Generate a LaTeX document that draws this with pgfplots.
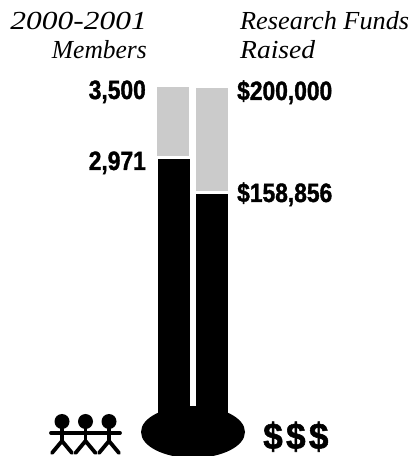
\documentclass[border=0pt]{standalone}
\usepackage{pgfplots}
\pgfplotsset{compat=1.18}
\usepackage{fontspec}
\setmainfont{Liberation Serif}
\newfontfamily\heads{Liberation Sans}[BoldFeatures={FakeBold=1.5}]
\definecolor{goalgray}{HTML}{CBCBCB}
\newcommand{\boldnum}[2][0.86]{\scalebox{#1}[1]{\heads\bfseries\fontsize{26.5}{26.5}\selectfont #2}}
\newcommand{\headline}[2][1]{\scalebox{#1}[1]{\itshape\fontsize{26}{26}\selectfont #2}}
\pgfplotsset{
  panel/.style={
    hide axis, scale only axis, width=412pt, height=430pt,
    at={(0pt,26pt)}, anchor=south west,
    xmin=0, xmax=412, ybar, bar shift=0pt,
    clip=true,
  },
}
\begin{document}
\begin{tikzpicture}[x=1pt,y=1pt]
\useasboundingbox (0,0) rectangle (412,456);

% Membership column: 3,500 goal against 2,971 reached
\begin{axis}[panel, ymin=980, ymax=4139]
  \addplot[fill=goalgray, draw=none, bar width=32pt] coordinates {(173,3500)};
  \addplot[fill=white, draw=none, bar width=36pt] coordinates {(173.5,2995)};
  \addplot[fill=black, draw=none, bar width=32pt] coordinates {(174,2971)};
\end{axis}

% Research funds column: $200,000 goal against $158,856 raised
\begin{axis}[panel, ymin=67253, ymax=234157]
  \addplot[fill=goalgray, draw=none, bar width=32pt] coordinates {(212,200000)};
  \addplot[fill=white, draw=none, bar width=36pt] coordinates {(212,159900)};
  \addplot[fill=black, draw=none, bar width=32pt] coordinates {(212,158856)};
\end{axis}

% Base joining both columns
\fill[black] (193,24) ellipse [x radius=52, y radius=26];

% Column headings
\node[anchor=base east, inner sep=0] at (147,426) {\headline[1.21]{2000-2001}};
\node[anchor=base east, inner sep=0] at (147,397) {\headline[0.98]{Members}};
\node[anchor=base west, inner sep=0] at (240,426) {\headline[1.01]{Research Funds}};
\node[anchor=base west, inner sep=0] at (240,397) {\headline[1.06]{Raised}};

% Value labels
\node[anchor=base east, inner sep=0] at (146,357) {\boldnum{3,500}};
\node[anchor=base east, inner sep=0] at (146,286) {\boldnum{2,971}};
\node[anchor=base west, inner sep=0] at (237,356) {\boldnum{\$200,000}};
\node[anchor=base west, inner sep=0] at (237,254) {\boldnum{\$158,856}};

% Row of people
\foreach \cx in {62,85.5,109}{
  \fill[black] (\cx,34.5) circle (7.5);
  \draw[black, line width=3.8pt, line cap=round] (\cx,30) -- (\cx,15);
  \draw[black, line width=3.8pt, line cap=round] (\cx-10,3) -- (\cx,15) -- (\cx+10,3);
}
\draw[black, line width=3.8pt, line cap=round] (51,23) -- (120,23);

% Dollar signs
\node[anchor=base west, inner sep=0] at (263,7) {\scalebox{0.95}[1]{\heads\bfseries\fontsize{37}{37}\selectfont \$\kern3.5pt\$\kern3.5pt\$}};
\end{tikzpicture}
\end{document}
